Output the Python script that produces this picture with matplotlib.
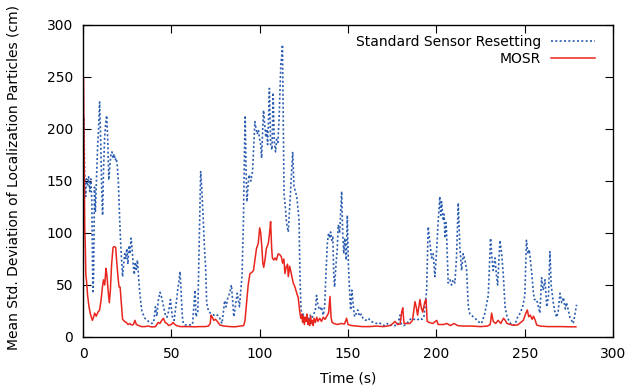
import matplotlib
matplotlib.use("Agg")
import matplotlib.pyplot as plt

# ---------------- data ----------------
t_std = [0, 0.5, 1.0, 1.5, 2.0, 2.6, 3.2, 3.8, 4.4, 5.0, 5.6, 6.0, 6.5, 7.0, 7.6, 8.2, 8.8, 9.4,
         10.0, 10.6, 11.1, 11.6, 12.2, 12.8, 13.4, 14.0, 14.6, 15.2, 15.8, 16.4, 17.0, 17.6, 18.2,
         18.8, 19.4, 20.0, 20.6, 21.2, 21.8, 22.4, 23.0, 23.6, 24.2, 24.8, 25.4, 26.0, 26.6, 27.2,
         27.8, 28.4, 29.0, 29.6, 30.2, 30.8, 31.4, 32.0, 32.6, 33.2, 34, 35, 36, 37, 38, 39, 40,
         41, 41.8, 42.6, 43.6, 44.5, 45.5, 46.5, 47.5, 48.5, 49.5, 50.5, 51.6, 52.6, 53.6, 54.4,
         54.9, 55.5, 56.2, 56.8, 58, 60, 62, 63.4, 64.0, 65.0, 65.8, 66.6, 67.3, 68.0, 68.5, 68.9,
         69.4, 70.0, 71.0, 72, 73, 74, 75, 76, 77, 78, 78.7, 79.5, 80.2, 81, 82, 83, 84, 84.7,
         85.4, 86.3, 87.3, 88.0, 88.6, 89.3, 90.0, 90.8, 91.4, 91.8, 92.3, 92.8, 93.4, 94.0, 95.0,
         96.0, 96.7, 97.3, 98.0, 98.6, 99.3, 100.0, 100.6, 101.1, 101.6, 102.2, 102.8, 103.5,
         104.0, 104.5, 105.0, 105.5, 106.2, 107.0, 107.6, 108.3, 109.0, 109.6, 110.3, 111.0,
         111.6, 112.0, 112.5, 112.9, 113.4, 113.8, 114.5, 115.2, 116.2, 117.0, 117.8, 118.7,
         119.4, 120.2, 121.0, 121.6, 122.3, 122.8, 123.3, 123.8, 124.5, 125.5, 126.5, 127.5,
         128.5, 129.5, 130.5, 131.5, 132.2, 133.0, 134.0, 135.0, 136.0, 136.8, 137.5, 138.3,
         139.0, 139.6, 140.2, 140.8, 141.4, 141.9, 142.4, 143.2, 143.9, 144.5, 145.3, 146.4,
         147.0, 147.6, 148.2, 149.0, 149.6, 150.2, 151.0, 151.5, 152.2, 153.0, 153.7, 154.5,
         155.5, 156.5, 157.5, 158.5, 160, 161.5, 163, 164.5, 166, 167.5, 169, 170.5, 172, 173.5,
         175, 176.5, 178, 179.4, 180.2, 181.5, 183, 184.5, 186, 187.5, 189, 190.5, 192, 193,
         193.5, 194.5, 195.4, 196.4, 197.3, 198.2, 199.2, 200.2, 201.0, 202.0, 202.5, 203.0,
         203.9, 204.4, 204.9, 205.4, 205.8, 206.7, 207.7, 208.6, 209.5, 210.5, 211.4, 212.4,
         213.3, 214.3, 215.2, 216.2, 217.1, 218.1, 219.0, 220.5, 222, 223.5, 225.6, 227.5,
         229.4, 230.7, 231.5, 232.2, 233.2, 234.0, 234.7, 236.0, 237, 237.9, 238.9, 240, 241.5,
         243, 244.5, 246, 247.5, 249, 250.1, 251, 251.8, 252.6, 253.4, 254.1, 254.8, 255.5,
         256.8, 258.6, 259.6, 260.5, 261.5, 262.5, 263.5, 264.3, 265, 266.2, 267, 268.1, 269,
         270, 271, 272, 273, 273.7, 275.6, 277.5, 279.4]
v_std = [20, 211, 150, 135, 152, 145, 154, 140, 152, 130, 42, 60, 144, 120, 150, 180, 200, 226,
         190, 140, 117, 160, 190, 205, 213, 190, 151, 165, 175, 178, 172, 176, 170,
         172, 165, 150, 120, 95, 75, 58, 70, 80, 75, 85, 70, 88, 80, 95,
         85, 70, 60, 72, 65, 74, 60, 45, 35, 26, 22, 18, 17, 15, 14, 13, 14,
         29, 20, 35, 43, 38, 30, 22, 19, 25, 36, 20, 16, 30, 45, 55,
         63, 45, 20, 13, 11.5, 11.5, 12, 45, 19.5, 25, 90, 159, 140, 116, 95, 81,
         68, 33, 25, 23, 22, 21, 22, 21, 20, 15, 13, 25, 35, 29, 38, 42, 50, 35,
         19.5, 30, 42, 35, 29, 45, 58, 110, 180, 213, 160, 130, 145, 156, 150,
         160, 185, 207, 200, 195, 199, 190, 185, 172, 195, 218, 205, 192,
         200, 185, 210, 239, 185, 180, 235, 187, 178, 190, 187, 210,
         240, 263, 270, 281, 200, 138, 125, 110, 101, 125, 150, 178,
         145, 140, 135, 125, 112, 60, 31, 20, 22, 18, 20, 16,
         21, 18, 22, 25, 40, 30, 26, 29, 21, 30, 60, 90,
         100, 95, 101, 93, 96, 62, 48, 70, 84, 108, 100, 140,
         100, 80, 95, 74, 117, 71, 40, 26, 45, 30, 19.5, 22,
         26, 20, 22, 18, 16, 18, 15, 14, 13, 14, 12, 11, 13, 11,
         12, 11, 11, 21, 12, 11, 12, 16, 18, 17, 16, 18, 17, 20,
         28, 45, 106, 90, 76, 80, 58, 84, 110, 135, 117, 130,
         112, 118, 95, 110, 100, 52, 55, 50, 55, 52, 76, 129,
         87, 64, 80, 74, 65, 29, 22, 20, 18, 15, 13, 23,
         40, 95, 75, 64, 76, 60, 50, 93, 80, 60, 29, 20, 14,
         11, 12, 19, 23, 30, 40, 93, 80, 84, 71, 60, 45, 36,
         36, 23, 57, 45, 55, 29, 40, 82, 50, 33, 25, 19, 25,
         42, 33, 38, 27, 33, 19, 13, 31]

t_mosr = [0.3, 0.5, 0.8, 1.0, 1.3, 1.6, 2.0, 2.6, 3.4, 4.2, 5.3, 6.0, 6.6, 7.5, 8.5, 9.4, 10.2,
          11.0, 11.6, 12.3, 13.0, 13.5, 14.2, 14.9, 15.5, 16.2, 17.0, 17.7, 18.5, 19.2, 19.8,
          20.4, 21.0, 21.6, 22.4, 23.5, 24.5, 25.5, 26.5, 27.5, 28.5, 29.4, 30.2, 31.5, 33, 35,
          37, 39, 41, 42.6, 43.5, 44.6, 45.5, 46.5, 47.5, 48.5, 50, 51, 52, 53, 55, 57, 60, 63,
          66, 69, 71, 72.0, 72.5, 73.2, 74, 75, 76, 77.5, 80, 83, 86, 89, 91, 91.7, 92.6, 93.5,
          94.5, 95.5, 96.5, 97.3, 98.2, 99.2, 100.0, 100.6, 101.2, 101.8, 102.3, 103.0, 103.8,
          104.9, 105.6, 106.2, 106.8, 107.2, 108, 108.7, 109.5, 110.5, 111.5, 112.3, 113, 113.7,
          114.3, 115, 115.8, 116.2, 117, 118, 119, 120, 121, 121.8, 122.3, 122.8, 123.3, 123.8,
          124.3, 124.8, 125.3, 125.8, 126.3, 126.8, 127.3, 127.8, 128.3, 128.8, 129.3, 129.8,
          130.3, 130.8, 131.5, 132.3, 133, 134, 135, 136, 137, 138, 139, 139.8, 140.4, 141, 142,
          144, 146, 148, 149.2, 150, 152, 155, 158, 162, 166, 170, 174, 176.6, 178, 179.5,
          180.4, 181, 181.7, 183, 185, 186.5, 187.9, 188.6, 189.4, 190.7, 191.5, 192.3, 193.5,
          194.2, 194.8, 196, 198, 200.2, 201, 204, 206, 208, 210, 212, 215, 220, 225, 229,
          230.5, 231.3, 232.2, 233.5, 235, 236.5, 238, 239, 240, 243, 246, 249.2, 250.5, 251.5,
          252.3, 253.2, 254.2, 255, 256, 256.8, 259, 263, 267, 271, 275, 279]
v_mosr = [248, 210, 150, 105, 88, 60, 54, 40, 29, 22, 16, 19, 23, 20, 24, 26, 35,
          48, 55, 50, 66, 60, 45, 33, 45, 70, 86, 87, 86, 70, 58,
          48, 48, 35, 17, 15, 14, 12, 13, 11.5, 12, 16, 12, 11, 10, 10,
          10.5, 9.6, 10, 14, 13, 16, 18, 14, 13, 11, 12, 14, 12, 11, 10, 10, 10, 9.8,
          10, 10, 10.5, 13, 21, 19, 16, 17, 15, 11.5, 10.5, 10, 9.8, 10.5, 11, 16, 33, 50,
          61, 62, 64, 74, 85, 90, 105, 100, 87, 71, 67, 74, 85,
          90, 100, 111, 85, 76, 74, 76, 74, 80, 79, 77, 71, 75,
          61, 67, 70, 58, 68, 60, 52, 48, 42, 38, 30, 23, 18, 22,
          14, 20, 12, 19, 15, 22, 12, 17, 11, 20, 13, 16,
          11, 18, 14, 19, 15, 18, 15, 19, 17, 20, 23, 39, 19, 14, 13,
          12, 13, 12.5, 18, 12, 11, 10.5, 10, 10, 10.5, 10, 11, 15, 12, 12.5,
          24, 28, 13, 13, 13, 16, 34, 29, 21, 36, 28, 24, 34,
          36, 15, 14, 13, 16, 12, 12, 13, 11, 13, 11, 10.5, 10.5, 10, 10.5,
          12, 23, 15, 13, 16, 13, 18, 16, 13, 11.5, 11.5, 16, 22, 26,
          19.5, 21, 17, 20, 16, 11.5, 10.5, 10, 10, 10, 9.8, 9.8]

x_ticks = [0, 50, 100, 150, 200, 250, 300]
y_ticks = [0, 50, 100, 150, 200, 250, 300]
label_std = "Standard Sensor Resetting"
label_mosr = "MOSR"

# ---------------- plot ----------------
plt.rcParams['font.family'] = ['DejaVu Sans']
fig = plt.figure(figsize=(6.37, 3.87), dpi=100)
ax = fig.add_axes([83/637, 50/387, 530/637, 312/387])

ax.plot(t_std, v_std, color='#2a5cb0', linewidth=1.2, linestyle=(0, (1.2, 1.4)),
        label=label_std)
ax.plot(t_mosr, v_mosr, color='#e8261e', linewidth=1.1, label=label_mosr)

ax.set_xlim(0, 300)
ax.set_ylim(0, 300)
ax.set_xticks(x_ticks)
ax.set_yticks(y_ticks)
ax.tick_params(direction='in', length=6, width=0.8, top=True, right=True,
               labelsize=10, pad=7, colors='black')
for s in ax.spines.values():
    s.set_linewidth(1.0)

ax.set_xlabel("Time (s)", fontsize=10, labelpad=8)
ax.set_ylabel("Mean Std. Deviation of Localization Particles (cm)", fontsize=10)
ax.yaxis.set_label_coords(-0.118, 0.51)

leg = ax.legend(loc='upper right', frameon=False, markerfirst=False, fontsize=10,
                handlelength=3.2, handletextpad=0.7, borderaxespad=0.3,
                labelspacing=0.22, bbox_to_anchor=(0.985, 1.0))
for txt in leg.get_texts():
    txt.set_ha('right')

fig.savefig("out.png", dpi=100)
